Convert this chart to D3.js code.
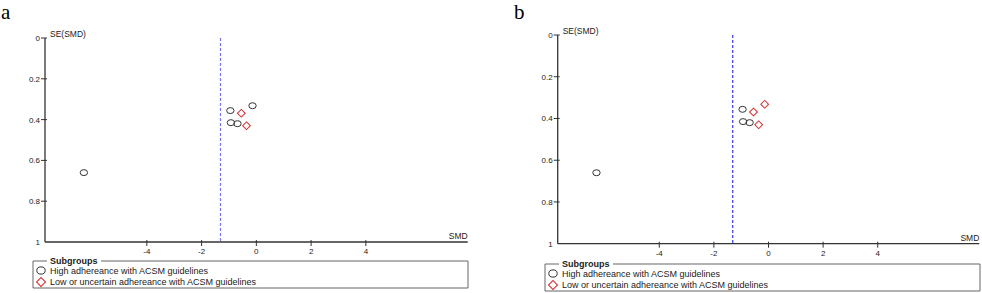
<!DOCTYPE html>
<html>
<head>
<meta charset="utf-8">
<script src="https://cdn.jsdelivr.net/npm/d3@7"></script>
<style>
  body { margin: 0; background: #fff; }
  svg { display: block; font-family: "Liberation Sans", Arial, sans-serif; }
</style>
</head>
<body>
<div id="chart"></div>
<script>
// study estimates (same studies in both panels)
const smd = [-0.95, -0.14, -0.55, -0.93, -0.69, -0.36, -6.30];
const se = [0.356, 0.332, 0.369, 0.415, 0.42, 0.43, 0.66];
// subgroup per study: 0 = high adherence (circle), 1 = low/uncertain (diamond)
const groupA = [0, 0, 1, 0, 0, 1, 0];
const groupB = [0, 1, 1, 0, 0, 1, 0];
const pooled = -1.31;
const xTicks = [-4, -2, 0, 2, 4];
const yTicks = [0, 0.2, 0.4, 0.6, 0.8];
const legendLabels = ["High adhereance with ACSM guidelines", "Low or uncertain adhereance with ACSM guidelines"];

const width = 982, height = 293;
const svg = d3.select("#chart").append("svg")
  .attr("width", width)
  .attr("height", height);

const axisColor = "#333";

function drawPanel(p) {
  const g = svg.append("g");
  const x = d3.scaleLinear().domain([-7.72, 7.72]).range([p.left, p.right]);
  const y = d3.scaleLinear().domain([0, 1]).range([p.top, p.bottom]);

  // panel letter
  g.append("text")
    .attr("x", p.letterX).attr("y", 19)
    .attr("font-family", "'Liberation Serif', 'Times New Roman', serif")
    .attr("font-size", 21)
    .text(p.letter);

  // y axis
  g.append("line")
    .attr("x1", p.left).attr("x2", p.left)
    .attr("y1", y(0)).attr("y2", y(1))
    .attr("stroke", axisColor).attr("stroke-width", 1.3);
  yTicks.forEach(t => {
    g.append("line")
      .attr("x1", p.left - 4).attr("x2", p.left + 2)
      .attr("y1", y(t)).attr("y2", y(t))
      .attr("stroke", axisColor);
    g.append("text")
      .attr("x", p.left - 5).attr("y", y(t) + 3)
      .attr("text-anchor", "end").attr("font-size", 8).attr("fill", "#222")
      .text(t === 0 ? "0" : t);
  });
  g.append("text")
    .attr("x", p.left - 5).attr("y", y(1) + 3)
    .attr("text-anchor", "end").attr("font-size", 8).attr("fill", "#222")
    .text("1");
  g.append("text")
    .attr("x", p.left + 5).attr("y", y(0) - 1)
    .attr("font-size", 8.5).attr("fill", "#222")
    .text("SE(SMD)");

  // x axis
  g.append("line")
    .attr("x1", p.left).attr("x2", p.right)
    .attr("y1", y(1)).attr("y2", y(1))
    .attr("stroke", axisColor).attr("stroke-width", 1.3);
  xTicks.forEach(t => {
    g.append("line")
      .attr("x1", x(t)).attr("x2", x(t))
      .attr("y1", y(1) - 2).attr("y2", y(1) + 4)
      .attr("stroke", axisColor);
    g.append("text")
      .attr("x", x(t)).attr("y", y(1) + 12)
      .attr("text-anchor", "middle").attr("font-size", 8).attr("fill", "#222")
      .text(t < 0 ? "-" + Math.abs(t) : t);
  });
  g.append("text")
    .attr("x", p.right).attr("y", y(1) - 3)
    .attr("text-anchor", "end").attr("font-size", 8.5).attr("fill", "#222")
    .text("SMD");

  // pooled estimate line
  g.append("line")
    .attr("x1", x(pooled)).attr("x2", x(pooled))
    .attr("y1", y(0)).attr("y2", y(1))
    .attr("stroke", p.dashColor).attr("stroke-width", 1.2)
    .attr("stroke-dasharray", "3,2");

  // points
  const pts = smd.map((d, i) => ({ smd: d, se: se[i], grp: p.groups[i] }));
  g.selectAll("ellipse.study")
    .data(pts.filter(d => d.grp === 0))
    .join("ellipse")
    .attr("class", "study")
    .attr("cx", d => x(d.smd)).attr("cy", d => y(d.se))
    .attr("rx", 3.7).attr("ry", 3)
    .attr("fill", "none").attr("stroke", "#333").attr("stroke-width", 1);
  const diamond = d3.symbol().type(d3.symbolSquare).size(30);
  g.selectAll("path.study")
    .data(pts.filter(d => d.grp === 1))
    .join("path")
    .attr("class", "study")
    .attr("d", diamond)
    .attr("transform", d => `translate(${x(d.smd)},${y(d.se)}) rotate(45)`)
    .attr("fill", "none").attr("stroke", "#d42a2a").attr("stroke-width", 1);

  // legend box
  const lg = p.legend;
  g.append("path")
    .attr("d", `M${lg.x + 14},${lg.y} H${lg.x} V${lg.y + lg.h} H${lg.x + lg.w} V${lg.y} H${lg.x + 68}`)
    .attr("fill", "none").attr("stroke", "#666").attr("stroke-width", 1);
  g.append("text")
    .attr("x", lg.x + 17).attr("y", lg.y + 3)
    .attr("font-size", 9).attr("font-weight", "bold").attr("fill", "#222")
    .text("Subgroups");
  g.append("ellipse")
    .attr("cx", lg.x + 8).attr("cy", lg.y + 9.5)
    .attr("rx", 4.2).attr("ry", 3.6)
    .attr("fill", "none").attr("stroke", "#333");
  g.append("path")
    .attr("d", d3.symbol().type(d3.symbolSquare).size(40))
    .attr("transform", `translate(${lg.x + 8},${lg.y + 21}) rotate(45)`)
    .attr("fill", "none").attr("stroke", "#d42a2a");
  legendLabels.forEach((t, i) => {
    g.append("text")
      .attr("x", lg.x + 17).attr("y", lg.y + 12.5 + i * 11)
      .attr("font-size", 9).attr("fill", "#222")
      .text(t);
  });
}

drawPanel({
  letter: "a", letterX: 1,
  left: 45, right: 467.7, top: 38, bottom: 242,
  groups: groupA, dashColor: "#7474ee",
  legend: { x: 33, y: 261, w: 435, h: 27 }
});
drawPanel({
  letter: "b", letterX: 514,
  left: 557.7, right: 979.3, top: 35, bottom: 243.7,
  groups: groupB, dashColor: "#3a3ae0",
  legend: { x: 545, y: 264, w: 435, h: 27 }
});
</script>
</body>
</html>
